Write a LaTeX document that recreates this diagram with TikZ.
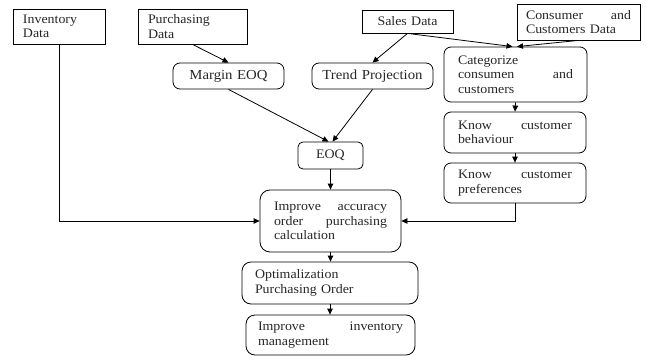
\documentclass[tikz,border=0pt]{standalone}
\usepackage{fontspec}
\setmainfont[FakeStretch=1.07]{Liberation Serif}
\usetikzlibrary{arrows.meta,calc}
\begin{document}
\begin{tikzpicture}[x=1pt,y=-1pt,
  every node/.style={font=\fontsize{13}{14.5}\selectfont, text=black!85},
  sq/.style={draw, line width=0.8pt, inner xsep=10pt, inner ysep=2pt, align=left},
  rbox/.style={draw, line width=0.8pt, rounded corners=7pt, inner xsep=14pt, inner ysep=2pt, align=left},
  big/.style={font=\fontsize{13.8}{15}\selectfont},
  arr/.style={line width=0.8pt, -{Triangle[length=6pt,width=5.5pt]}},
  ln/.style={line width=0.8pt}]
\useasboundingbox (0,0) rectangle (646,356);
% top row
\node[sq, text width=72pt, minimum height=35pt] (inv) at (59,26.5) {Inventory\\Data};
\node[sq, text width=89pt, minimum height=35pt] (pur) at (192.5,26.5) {Purchasing\\Data};
\node[sq, text width=91pt, align=center, inner xsep=0pt, minimum height=23pt] (sal) at (407.5,21.5) {Sales Data};
\node[sq, inner xsep=9pt, text width=105pt, minimum height=36pt] (con) at (578.5,22) {Consumer\hfill and\\Customers Data};
% second row
\node[rbox, big, inner xsep=0pt, text width=111pt, align=center, minimum height=26pt] (mar) at (228.5,76) {Margin EOQ};
\node[rbox, big, inner xsep=0pt, text width=121pt, align=center, minimum height=26pt] (tre) at (372.5,76) {Trend Projection};
\node[rbox, text width=115pt, minimum height=55pt] (cat) at (515.5,74.5) {Categorize\\consumen\hfill and\\customers};
\node[rbox, text width=114pt, minimum height=41pt] (beh) at (515,132.5) {Know\hfill customer\\behaviour};
\node[rbox, text width=114pt, minimum height=40pt] (pre) at (515,183) {Know\hfill customer\\preferences};
% centre column
\node[rbox, inner xsep=0pt, text width=65pt, align=center, minimum height=27pt, rounded corners=5pt] (eoq) at (330.5,155.5) {EOQ};
\node[rbox, text width=113pt, minimum height=62pt, rounded corners=10pt] (acc) at (330.5,221) {Improve\hfill accuracy\\order\hfill purchasing\\calculation};
\node[rbox, inner xsep=13pt, text width=150pt, minimum height=42pt, rounded corners=9pt] (opt) at (330,283) {Optimalization\\Purchasing Order};
\node[rbox, inner xsep=12pt, text width=145pt, minimum height=40pt, rounded corners=9pt] (imp) at (330.5,335) {Improve\hfill inventory\\management};
% connectors
\draw[arr] (pur.south) -- (mar.north);
\draw[arr] (sal.south) -- (tre.north);
\draw[arr] (sal.south) -- ($(cat.north)+(-3,0)$);
\draw[arr] (con.south) -- ($(cat.north)+(1.5,0)$);
\draw[arr] (mar.south) -- ($(eoq.north)+(-2,0)$);
\draw[arr] (tre.south) -- ($(eoq.north)+(2,0)$);
\draw[arr] (eoq.south) -- (acc.north);
\draw[arr] (cat.south) -- (beh.north);
\draw[arr] (beh.south) -- (pre.north);
\draw[arr] (inv.south) |- (acc.west);
\draw[arr] (pre.south) |- (acc.east);
\draw[arr] (acc.south) -- (acc.south |- opt.north);
\draw[arr] (opt.south) -- (opt.south |- imp.north);
\end{tikzpicture}
\end{document}
